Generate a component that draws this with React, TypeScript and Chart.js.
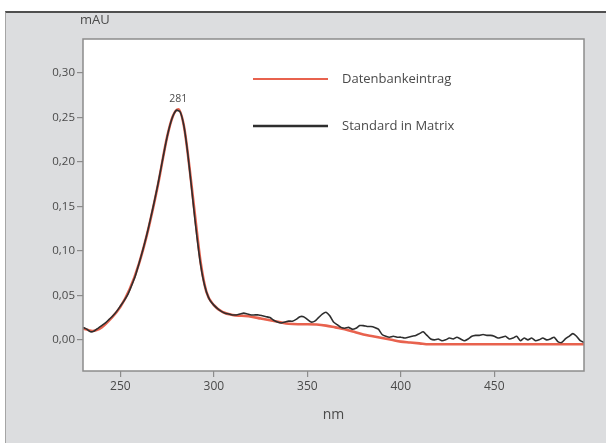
import React, { useEffect, useRef } from "react";
import { Chart, registerables } from "chart.js";

Chart.register(...registerables);

// Reference spectrum (smooth, red)
const refNm = [230, 235, 240, 245, 250, 255, 260, 265, 270, 275, 278, 281, 284, 287, 290, 293, 296, 300, 305, 310, 315, 320, 325, 330, 335, 340, 345, 350, 355, 360, 365, 370, 375, 380, 385, 390, 395, 400, 405, 410, 415, 420, 440, 460, 480, 498];
const refVal = [0.013, 0.010, 0.014, 0.024, 0.037, 0.057, 0.086, 0.125, 0.173, 0.228, 0.251, 0.259, 0.240, 0.193, 0.138, 0.086, 0.054, 0.039, 0.031, 0.028, 0.027, 0.026, 0.024, 0.022, 0.020, 0.018, 0.0175, 0.0175, 0.0172, 0.016, 0.014, 0.012, 0.009, 0.006, 0.004, 0.002, 0.000, -0.002, -0.003, -0.004, -0.005, -0.005, -0.005, -0.005, -0.005, -0.005];

// Measured spectrum (noisy, black)
const stdNm = [230, 232, 234, 236, 238, 240, 242, 244, 246, 248, 250, 252, 254, 256, 258, 260, 262, 264, 266, 268, 270, 272, 274, 276, 278, 280, 282, 284, 286, 288, 290, 292, 294, 296, 298, 300, 302, 304, 306, 308, 310, 312, 314, 316, 318, 320, 322, 324, 326, 328, 330, 332, 334, 336, 338, 340, 342, 344, 346, 348, 350, 352, 354, 356, 358, 360, 362, 364, 366, 368, 370, 372, 374, 376, 378, 380, 382, 384, 386, 388, 390, 392, 394, 396, 398, 400, 402, 404, 406, 408, 410, 412, 414, 416, 418, 420, 422, 424, 426, 428, 430, 432, 434, 436, 438, 440, 442, 444, 446, 448, 450, 452, 454, 456, 458, 460, 462, 464, 466, 468, 470, 472, 474, 476, 478, 480, 482, 484, 486, 488, 490, 492, 494, 496, 498];
const stdVal = [0.014, 0.012, 0.009, 0.010, 0.013, 0.016, 0.019, 0.023, 0.027, 0.032, 0.038, 0.044, 0.051, 0.061, 0.072, 0.086, 0.101, 0.117, 0.135, 0.154, 0.174, 0.196, 0.218, 0.237, 0.251, 0.258, 0.256, 0.240, 0.210, 0.172, 0.133, 0.098, 0.071, 0.054, 0.044, 0.039, 0.035, 0.032, 0.030, 0.029, 0.028, 0.028, 0.029, 0.030, 0.029, 0.028, 0.028, 0.028, 0.027, 0.026, 0.025, 0.022, 0.020, 0.019, 0.020, 0.021, 0.021, 0.023, 0.026, 0.026, 0.023, 0.020, 0.021, 0.025, 0.029, 0.031, 0.027, 0.020, 0.017, 0.014, 0.013, 0.014, 0.012, 0.013, 0.016, 0.016, 0.015, 0.015, 0.014, 0.012, 0.006, 0.004, 0.003, 0.004, 0.003, 0.003, 0.002, 0.003, 0.004, 0.005, 0.007, 0.009, 0.005, 0.001, 0.000, 0.001, -0.001, 0.000, 0.002, 0.001, 0.003, 0.001, -0.001, 0.001, 0.004, 0.005, 0.005, 0.006, 0.005, 0.005, 0.004, 0.002, 0.003, 0.004, 0.001, 0.002, 0.004, -0.001, 0.002, 0.000, 0.002, -0.001, 0.000, 0.002, 0.000, 0.001, 0.003, -0.002, -0.003, 0.001, 0.004, 0.007, 0.004, -0.001, -0.003];

const yTicks = [0, 0.05, 0.1, 0.15, 0.2, 0.25, 0.3];
const xTicks = [250, 300, 350, 400, 450];
const seriesNames = ["Datenbankeintrag", "Standard in Matrix"];
const peakNm = 281;
const peakVal = 0.259;
const yUnit = "mAU";
const xUnit = "nm";

const RED = "#e8624e";
const BLACK = "#2e2e2e";
const FONT = "'Open Sans', 'DejaVu Sans', sans-serif";
const TXT = "#4a4a4a";

export default function App() {
  const ref = useRef<HTMLCanvasElement | null>(null);

  useEffect(() => {
    document.body.style.margin = "0";
    const canvas = ref.current;
    if (!canvas) return;

    const decor = {
      id: "decor",
      beforeDatasetsDraw(chart: any) {
        const { ctx, chartArea } = chart;
        ctx.save();
        ctx.fillStyle = "#ffffff";
        ctx.fillRect(chartArea.left, chartArea.top, chartArea.right - chartArea.left, chartArea.bottom - chartArea.top);
        ctx.restore();
      },
      afterDatasetsDraw(chart: any) {
        const { ctx, chartArea, scales } = chart;
        ctx.save();
        ctx.strokeStyle = "#8c8c8c";
        ctx.lineWidth = 1.5;
        ctx.strokeRect(chartArea.left, chartArea.top, chartArea.right - chartArea.left, chartArea.bottom - chartArea.top);

        // axis units
        ctx.fillStyle = TXT;
        ctx.font = `13px ${FONT}`;
        ctx.textBaseline = "middle";
        ctx.textAlign = "left";
        ctx.fillText(yUnit, chartArea.left - 3, 20);
        ctx.textAlign = "center";
        ctx.font = `14px ${FONT}`;
        ctx.fillText(xUnit, (chartArea.left + chartArea.right) / 2, 415);

        // peak label
        const px = scales.x.getPixelForValue(peakNm);
        const py = scales.y.getPixelForValue(peakVal);
        ctx.font = `10.5px ${FONT}`;
        ctx.fillStyle = TXT;
        ctx.fillText(String(peakNm), px, py - 10);

        // legend
        const items = [
          { name: seriesNames[0], color: RED, y: 79, w: 2 },
          { name: seriesNames[1], color: BLACK, y: 126, w: 2.5 },
        ];
        ctx.textAlign = "left";
        ctx.font = `13px ${FONT}`;
        for (const it of items) {
          ctx.strokeStyle = it.color;
          ctx.lineWidth = it.w;
          ctx.beginPath();
          ctx.moveTo(253, it.y);
          ctx.lineTo(328, it.y);
          ctx.stroke();
          ctx.fillStyle = TXT;
          ctx.fillText(it.name, 342, it.y);
        }
        ctx.restore();
      },
    };

    const chart = new Chart(canvas, {
      type: "line",
      data: {
        datasets: [
          {
            label: seriesNames[1],
            data: stdNm.map((x, i) => ({ x, y: stdVal[i] })),
            borderColor: BLACK,
            borderWidth: 1.6,
            pointRadius: 0,
            tension: 0.2,
            order: 1,
          },
          {
            label: seriesNames[0],
            data: refNm.map((x, i) => ({ x, y: refVal[i] })),
            borderColor: RED,
            borderWidth: 2.6,
            pointRadius: 0,
            cubicInterpolationMode: "monotone",
            order: 2,
          },
        ],
      },
      options: {
        animation: false,
        responsive: false,
        maintainAspectRatio: false,
        devicePixelRatio: 1,
        layout: { padding: { left: 0, top: 39, right: 22, bottom: 0 } },
        plugins: { legend: { display: false }, tooltip: { enabled: false } },
        scales: {
          x: {
            type: "linear",
            min: 230,
            max: 498,
            afterBuildTicks: (s: any) => {
              s.ticks = xTicks.map((v) => ({ value: v }));
            },
            afterFit: (s: any) => {
              s.height = 72;
            },
            grid: { drawOnChartArea: false, color: "#8c8c8c", tickLength: 6, lineWidth: 1.2 },
            border: { display: false },
            ticks: {
              color: TXT,
              font: { family: FONT, size: 12 },
              padding: 2,
              maxRotation: 0,
              callback: (v: any) => String(v),
            },
          },
          y: {
            type: "linear",
            min: -0.035,
            max: 0.338,
            afterBuildTicks: (s: any) => {
              s.ticks = yTicks.map((v) => ({ value: v }));
            },
            afterFit: (s: any) => {
              s.width = 83;
            },
            grid: { drawOnChartArea: false, color: "#8c8c8c", tickLength: 6, lineWidth: 1.2 },
            border: { display: false },
            ticks: {
              color: TXT,
              font: { family: FONT, size: 11.5 },
              padding: 2,
              callback: (v: any) => Number(v).toFixed(2).replace(".", ","),
            },
          },
        },
      },
      plugins: [decor],
    } as any);

    return () => chart.destroy();
  }, []);

  return (
    <div style={{ position: "relative", width: 606, height: 443, background: "#ffffff", overflow: "hidden" }}>
      <div
        style={{
          position: "absolute",
          left: 5,
          top: 11,
          width: 601,
          height: 432,
          background: "#dcdddf",
          borderTop: "2px solid #4f4f4f",
          borderLeft: "1.5px solid #a5a5a5",
          boxSizing: "border-box",
        }}
      />
      <canvas ref={ref} width={606} height={443} style={{ position: "absolute", left: 0, top: 0, width: 606, height: 443 }} />
    </div>
  );
}
